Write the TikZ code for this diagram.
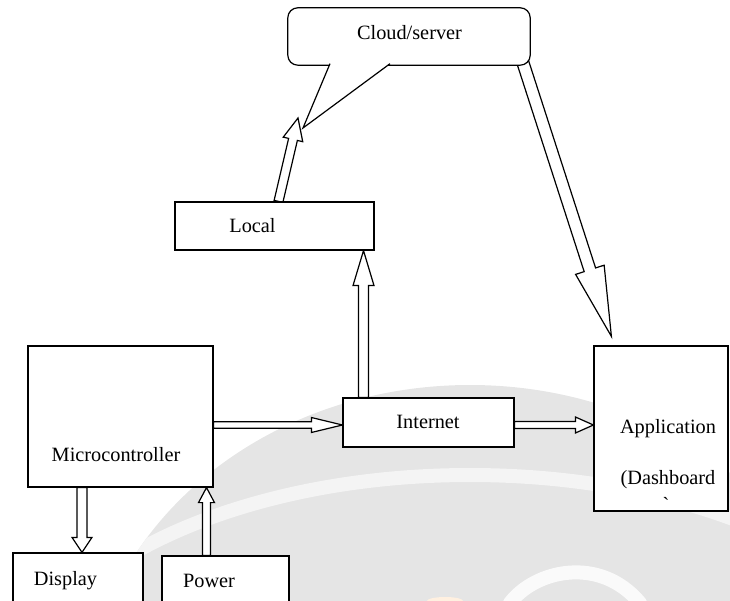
\documentclass[tikz,border=0pt]{standalone}
\usepackage{fontspec}
\setmainfont{Liberation Serif}
\newfontfamily\rawserif{Liberation Serif}
\usetikzlibrary{calc}

\pgfdeclarelayer{wmark}
\pgfdeclarelayer{arrows}
\pgfsetlayers{wmark,arrows,main}

\tikzset{
  block/.style={draw, fill=white, line width=1.2pt, inner sep=0pt},
  lbl/.style={anchor=base, inner sep=0pt, font=\fontsize{20.3}{24}\selectfont},
  hollow/.style={draw, fill=white, line width=1.2pt, line join=miter}
}

% hollow block arrow: start, tip, shaft half width, head half width, head length
\newcommand{\blockarrow}[5]{%
  \begin{pgfonlayer}{arrows}
  \coordinate (hb) at ($(#2)!#5!(#1)$);
  \path[hollow] ($(#1)!#3!90:(#2)$) -- ($(hb)!#3!-90:(#1)$) -- ($(hb)!#4!-90:(#1)$)
    -- (#2) -- ($(hb)!#4!90:(#1)$) -- ($(hb)!#3!90:(#1)$) -- ($(#1)!#3!-90:(#2)$) -- cycle;
  \end{pgfonlayer}}

\begin{document}
\begin{tikzpicture}[x=1pt, y=-1pt]
    \useasboundingbox (0,0) rectangle (730,601);

    % Watermark
    \begin{pgfonlayer}{wmark}
      \fill[gray!20] (470,720) ellipse (385pt and 335pt);
      \begin{scope}
        \clip (470,720) ellipse (385pt and 335pt);
        \draw[gray!9, line width=14pt] (470,720) ellipse (460pt and 245pt);
      \end{scope}
      \draw[gray!4, line width=14pt, line cap=round] (510,603) .. controls (535,570) and (600,555) .. (640,603);
      \fill[orange!12] (445,601) ellipse (18pt and 4pt);
    \end{pgfonlayer}

    % Blocks
    \node[minimum width=242pt, minimum height=57pt, inner sep=0pt] (cloud) at (409,36.5) {};
    \node[block, minimum width=199pt, minimum height=48pt] (local) at (274.5,226) {};
    \node[block, minimum width=171pt, minimum height=49pt] (internet) at (428.5,422.5) {};
    \node[block, minimum width=134pt, minimum height=165pt] (app) at (661,428.5) {};
    \node[block, minimum width=185pt, minimum height=141pt] (micro) at (120.5,416.5) {};
    \node[block, minimum width=130pt, minimum height=53pt] (display) at (78,579.5) {};
    \node[block, minimum width=127pt, minimum height=50pt] (power) at (225.5,581) {};

    % Callout
    \coordinate (cloudtip) at (303,128);
    \draw[block, rounded corners=10pt] (cloud.south west) rectangle (cloud.north east);
    \draw[block] ([xshift=-79pt, yshift=1.5pt]cloud.south) -- (cloudtip) -- ([xshift=-19pt, yshift=1.5pt]cloud.south);

    % Labels
    \node[lbl] (cloudtxt) at (409.5,40) {Cloud/server};
    \node[lbl] (localtxt) at (252.5,233) {Local};
    \node[lbl] (internettxt) at (428,428) {Internet};
    \node[lbl] (apptxt) at (668,433) {Application};
    \node[lbl] (dashtxt) at (668,484) {(Dashboard};
    \node[lbl] (ticktxt) at (666,511) {\rawserif `};
    \node[lbl] (microtxt) at (116,461.5) {Microcontroller};
    \node[lbl] (displaytxt) at (65.5,585) {Display};
    \node[lbl] (powertxt) at (209,587) {Power};

    % Arrows
    \coordinate (i2m) at ([yshift=-2.5pt]internet.west);
    \coordinate (m2i) at (micro.east |- i2m);
    \blockarrow{m2i}{i2m}{3.3pt}{7.5pt}{31pt}
    \coordinate (i2a) at ([yshift=-2.5pt]internet.east);
    \coordinate (a2i) at (app.west |- i2a);
    \blockarrow{i2a}{a2i}{3.5pt}{8pt}{18pt}
    \coordinate (i2l) at ([xshift=-65pt]internet.north);
    \coordinate (l2i) at (i2l |- local.south);
    \blockarrow{i2l}{l2i}{5pt}{10.5pt}{35pt}
    \coordinate (l2c) at ([xshift=4pt]local.north);
    \coordinate (c2l) at (298,118);
    \blockarrow{l2c}{c2l}{4.5pt}{10pt}{22pt}
    \coordinate (c2a) at ([xshift=-10pt, yshift=11pt]cloud.south east);
    \coordinate (a2c) at ([xshift=18pt, yshift=9pt]app.north west);
    \blockarrow{c2a}{a2c}{6pt}{15pt}{70pt}
    \coordinate (m2d) at ([xshift=-38.5pt]micro.south);
    \coordinate (d2m) at (m2d |- display.north);
    \blockarrow{m2d}{d2m}{5pt}{10pt}{15pt}
    \coordinate (p2m) at ([xshift=-19pt]power.north);
    \coordinate (m2p) at (p2m |- micro.south);
    \blockarrow{p2m}{m2p}{4pt}{8pt}{15pt}

\end{tikzpicture}
\end{document}
